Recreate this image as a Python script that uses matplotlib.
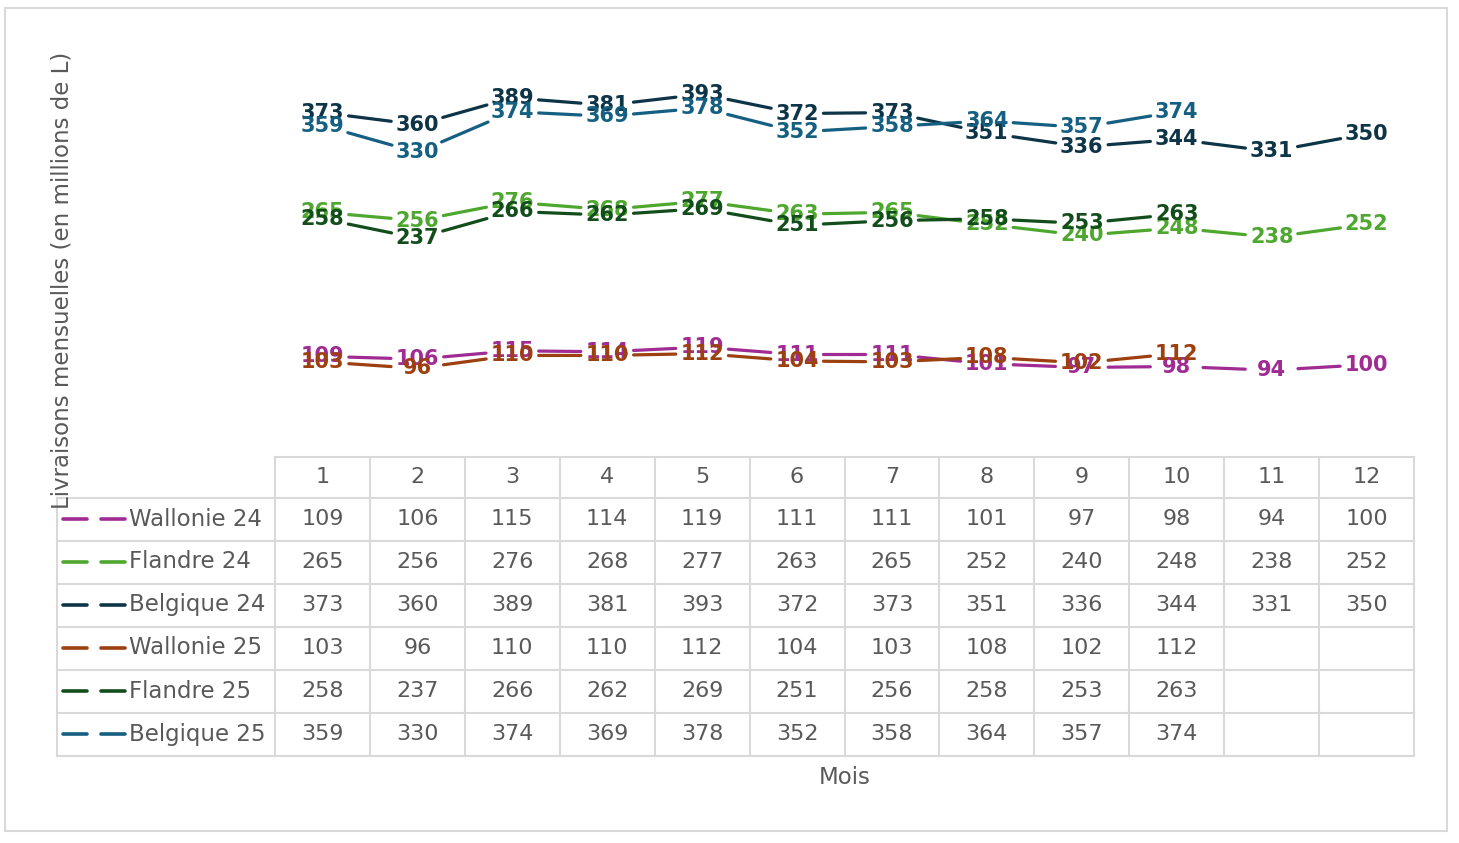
import numpy as np
import matplotlib.pyplot as plt
from matplotlib.lines import Line2D
from matplotlib.patches import Rectangle

# données (millions de L par mois)
mois = [1, 2, 3, 4, 5, 6, 7, 8, 9, 10, 11, 12]
series = ['Wallonie 24', 'Flandre 24', 'Belgique 24', 'Wallonie 25', 'Flandre 25', 'Belgique 25']
wallonie_24 = [109, 106, 115, 114, 119, 111, 111, 101, 97, 98, 94, 100]
flandre_24 = [265, 256, 276, 268, 277, 263, 265, 252, 240, 248, 238, 252]
belgique_24 = [373, 360, 389, 381, 393, 372, 373, 351, 336, 344, 331, 350]
wallonie_25 = [103, 96, 110, 110, 112, 104, 103, 108, 102, 112, None, None]
flandre_25 = [258, 237, 266, 262, 269, 251, 256, 258, 253, 263, None, None]
belgique_25 = [359, 330, 374, 369, 378, 352, 358, 364, 357, 374, None, None]
valeurs = [wallonie_24, flandre_24, belgique_24, wallonie_25, flandre_25, belgique_25]
couleurs = ['#A02B93', '#4EA72E', '#0E3547', '#9C4010', '#124D1B', '#156082']

W, H = 1459, 843
fig = plt.figure(figsize=(W / 100, H / 100), dpi=100)
gris = '#595959'
grille = '#D9D9D9'

# axe principal (pixels -> fraction de figure)
x0, x1 = 275, 1414
y_bas, y_haut = 457, 41.5
ax = fig.add_axes([x0 / W, 1 - y_bas / H, (x1 - x0) / W, (y_bas - y_haut) / H])
ax.set_xlim(0.5, 12.5)
ax.set_ylim(0, 450)
ax.axis('off')

for i, (vals, c) in enumerate(zip(valeurs, couleurs)):
    pts = [(m, v) for m, v in zip(mois, vals) if v is not None]
    for (xa, ya), (xb, yb) in zip(pts[:-1], pts[1:]):
        ax.annotate('', xy=(xb, yb), xytext=(xa, ya),
                    arrowprops=dict(arrowstyle='-', color=c, lw=2.3,
                                    shrinkA=19, shrinkB=19),
                    zorder=2 + i)
    for xm, v in pts:
        ax.text(xm, v, str(v), color=c, fontsize=15, fontweight='bold',
                ha='center', va='center', zorder=10 + i)

# tableau de données (coordonnées pixels)
tb = fig.add_axes([0, 0, 1, 1])
tb.set_xlim(0, W)
tb.set_ylim(H, 0)
tb.axis('off')

col_w = (x1 - x0) / len(mois)
lignes_y = [457, 497.5, 540.5, 583.5, 626.5, 669.5, 712.5, 756]
x_leg = 57

# lignes horizontales
tb.plot([x0, x1], [lignes_y[0], lignes_y[0]], color=grille, lw=1.5)
for y in lignes_y[1:]:
    tb.plot([x_leg, x1], [y, y], color=grille, lw=1.5)
# lignes verticales
tb.plot([x_leg, x_leg], [lignes_y[1], lignes_y[-1]], color=grille, lw=1.5)
for k in range(len(mois) + 1):
    xx = x0 + k * col_w
    tb.plot([xx, xx], [lignes_y[0], lignes_y[-1]], color=grille, lw=1.5)

# en-tête des mois
for k, m in enumerate(mois):
    tb.text(x0 + (k + 0.5) * col_w, (lignes_y[0] + lignes_y[1]) / 2, str(m),
            color=gris, fontsize=16, ha='center', va='center')

# lignes de séries
for r, (nom, vals, c) in enumerate(zip(series, valeurs, couleurs)):
    yc = (lignes_y[r + 1] + lignes_y[r + 2]) / 2
    tb.plot([63, 87], [yc, yc], color=c, lw=2.6, solid_capstyle='round')
    tb.plot([101, 125], [yc, yc], color=c, lw=2.6, solid_capstyle='round')
    tb.text(129, yc, nom, color=gris, fontsize=16.5, ha='left', va='center')
    for k, v in enumerate(vals):
        if v is None:
            continue
        tb.text(x0 + (k + 0.5) * col_w, yc, str(v), color=gris, fontsize=16,
                ha='center', va='center')

# titres d'axes
tb.text((x0 + x1) / 2, 777, 'Mois', color=gris, fontsize=16.5, ha='center', va='center')
tb.text(62, 280, 'Livraisons mensuelles (en millions de L)', color=gris, fontsize=16.5,
        rotation=90, ha='center', va='center')

# cadre du graphique
tb.add_patch(Rectangle((5, 8), 1442, 823, fill=False, edgecolor=grille, lw=1.5))

fig.savefig('out.png', dpi=100)
